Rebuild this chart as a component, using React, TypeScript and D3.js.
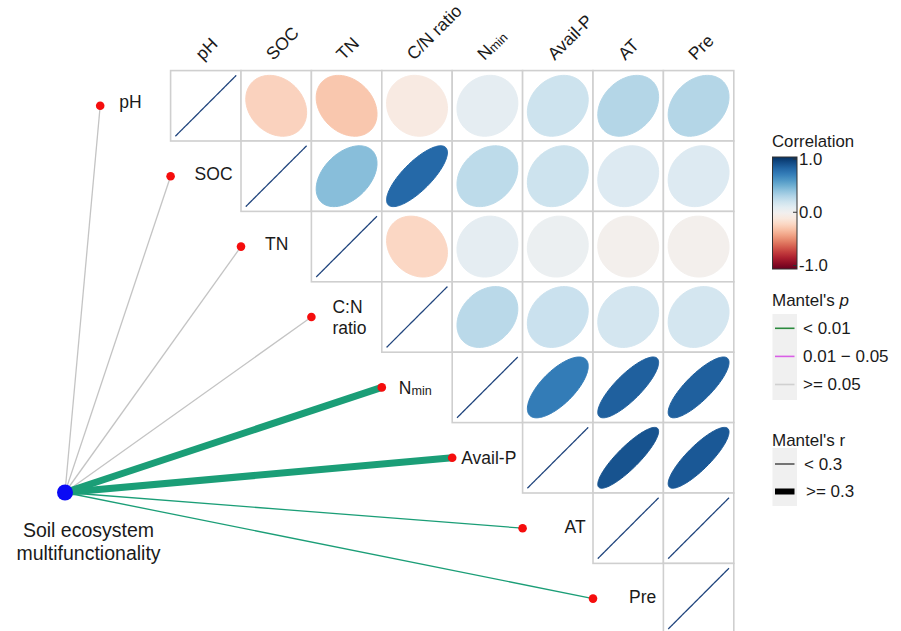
import React from "react";
import * as d3 from "d3";

// ---------- data ----------
const columns = ["pH", "SOC", "TN", "C/N ratio", "Nmin", "Avail-P", "AT", "Pre"];
const rowLabels = ["pH", "SOC", "TN", "C:N ratio", "Nmin", "Avail-P", "AT", "Pre"];

// upper-triangle correlations, each row starts at the diagonal
const corrPH = [1, -0.22, -0.27, -0.08, 0.09, 0.2, 0.29, 0.29];
const corrSOC = [1, 0.42, 0.78, 0.26, 0.2, 0.13, 0.13];
const corrTN = [1, -0.2, 0.09, 0.05, -0.015, -0.015];
const corrCN = [1, 0.27, 0.21, 0.17, 0.17];
const corrNmin = [1, 0.7, 0.82, 0.82];
const corrAvailP = [1, 0.87, 0.85];
const corrAT = [1, 1];
const corrPre = [1];
const corrRows = [corrPH, corrSOC, corrTN, corrCN, corrNmin, corrAvailP, corrAT, corrPre];

// Mantel test: soil ecosystem multifunctionality vs each variable
const mantelR = [0.12, 0.1, 0.08, 0.15, 0.42, 0.45, 0.2, 0.18];
const mantelP = [0.32, 0.41, 0.27, 0.15, 0.001, 0.001, 0.004, 0.006];

const colorTicks = [1, 0, -1];
const pLegend = ["< 0.01", "0.01 \u2212 0.05", ">= 0.05"];
const rLegend = ["< 0.3", ">= 0.3"];

// ---------- layout ----------
const W = 901;
const H = 631;
const X0 = 170.6;
const Y0 = 70.6;
const CELL = 70.4;
const HUB = { x: 65, y: 492.5 };
const FONT = "'Liberation Sans', Arial, Helvetica, sans-serif";
const LABEL_DX = [19, 24, 24, 21, 17, 9, 42, 36];
const LABEL_DY = [-4, -2, -3, 0, 0, 0, -1, -2];

const GREEN = "#1b9e77";
const LEGEND_GREEN = "#2b8a3e";
const MAGENTA = "#d95fe6";
const GREY = "#c4c4c4";
const DIAG = "#22467e";

const x = d3.scaleBand<string>().domain(columns).range([X0, X0 + CELL * columns.length]);
const y = d3.scaleBand<string>().domain(columns).range([Y0, Y0 + CELL * columns.length]);
const color = d3.scaleSequential(d3.interpolateRdBu).domain([-1, 1]);
const widthScale = d3.scaleThreshold<number, number>().domain([0.3]).range([1.3, 7]);
const pColor = d3.scaleThreshold<number, string>().domain([0.01, 0.05]).range([GREEN, MAGENTA, GREY]);

function ellipsePath(r: number, cx: number, cy: number, s: number) {
  const d = Math.acos(Math.max(-1, Math.min(1, r)));
  const pts: [number, number][] = d3.range(0, 2 * Math.PI + 0.001, Math.PI / 60).map((t) => [
    cx + s * Math.cos(t + d / 2),
    cy - s * Math.cos(t - d / 2),
  ]);
  return d3.line()(pts) + "Z";
}

function NLabel({ name, size }: { name: string; size: number }) {
  if (name === "Nmin") {
    return (
      <>
        N
        <tspan fontSize={size * 0.72} dy={1}>
          min
        </tspan>
      </>
    );
  }
  return <>{name}</>;
}

export default function App() {
  const cells: { row: number; col: number; r: number }[] = [];
  corrRows.forEach((vals, i) => vals.forEach((r, k) => cells.push({ row: i, col: i + k, r })));

  const dots = rowLabels.map((lab, i) => ({
    lab,
    i,
    x: X0 + (i - 1) * CELL,
    y: (y(columns[i]) as number) + CELL / 2,
  }));

  const cbTop = 157;
  const cbBot = 269;
  const cbScale = d3.scaleLinear().domain([-1, 1]).range([265.5, 159]);
  const gradStops = d3.range(0, 1.0001, 0.05);

  const s = CELL * 0.432;

  return (
    <svg
      width={W}
      height={H}
      style={{ position: "absolute", left: 0, top: 0, display: "block", background: "#fff" }}
      fontFamily={FONT}
    >
      <defs>
        <linearGradient id="cbar" x1="0" y1="0" x2="0" y2="1">
          {gradStops.map((t) => (
            <stop key={t} offset={t} stopColor={color(1 - 2 * t)} />
          ))}
        </linearGradient>
      </defs>

      {/* grid cells */}
      {cells.map((c) => (
        <rect
          key={`g${c.row}-${c.col}`}
          x={x(columns[c.col])}
          y={y(columns[c.row])}
          width={CELL}
          height={CELL}
          fill="#fff"
          stroke="#cfcfcf"
          strokeWidth={1.6}
        />
      ))}
      {/* ellipses */}
      {cells.map((c) => {
        const cx = (x(columns[c.col]) as number) + CELL / 2;
        const cy = (y(columns[c.row]) as number) + CELL / 2;
        const col = c.r >= 0.999 ? DIAG : color(c.r);
        return (
          <path
            key={`e${c.row}-${c.col}`}
            d={ellipsePath(c.r, cx, cy, s)}
            fill={col}
            stroke={col}
            strokeWidth={c.r >= 0.999 ? 1.3 : 1}
          />
        );
      })}

      {/* column headers */}
      {columns.map((cName) => {
        const px = (x(cName) as number) + CELL / 2 - 3;
        const py = 61;
        return (
          <text
            key={`h${cName}`}
            transform={`translate(${px},${py}) rotate(-45)`}
            fontSize={17.5}
            fill="#1a1a1a"
          >
            <NLabel name={cName} size={17.5} />
          </text>
        );
      })}

      {/* mantel links */}
      {dots.map((d) => (
        <line
          key={`l${d.i}`}
          x1={HUB.x}
          y1={HUB.y}
          x2={d.x}
          y2={d.y}
          stroke={pColor(mantelP[d.i])}
          strokeWidth={widthScale(mantelR[d.i])}
        />
      ))}
      {dots.map((d) => (
        <circle key={`d${d.i}`} cx={d.x} cy={d.y} r={4.3} fill="#f50d0d" />
      ))}
      <circle cx={HUB.x} cy={HUB.y} r={8} fill="#0a0af5" />

      {/* row labels */}
      {dots.map((d) => {
        const tx = d.x + LABEL_DX[d.i];
        const ty = d.y + LABEL_DY[d.i];
        if (d.lab === "C:N ratio") {
          return (
            <text key={`t${d.i}`} x={tx} y={ty} fontSize={17.5} fill="#1a1a1a">
              <tspan x={tx} y={ty - 10.5} dy="0.35em">
                C:N
              </tspan>
              <tspan x={tx} y={ty + 10.5} dy="0.35em">
                ratio
              </tspan>
            </text>
          );
        }
        return (
          <text key={`t${d.i}`} x={tx} y={ty} dy="0.35em" fontSize={17.5} fill="#1a1a1a">
            <NLabel name={d.lab} size={17.5} />
          </text>
        );
      })}

      {/* hub label */}
      <text x={88.5} y={530} dy="0.35em" fontSize={19.5} textAnchor="middle" fill="#1a1a1a">
        Soil ecosystem
      </text>
      <text x={88.5} y={554} dy="0.3em" fontSize={19.5} textAnchor="middle" fill="#1a1a1a">
        multifunctionality
      </text>

      {/* correlation legend */}
      <text x={772} y={141.5} dy="0.35em" fontSize={16.8} fill="#1a1a1a">
        Correlation
      </text>
      <rect x={772.5} y={cbTop} width={24.5} height={cbBot - cbTop} fill="url(#cbar)" stroke="#333" strokeWidth={1} />
      {colorTicks.map((t) => (
        <g key={`cb${t}`}>
          <line x1={793} x2={797} y1={cbScale(t)} y2={cbScale(t)} stroke="#333" strokeWidth={1} />
          <text x={799} y={cbScale(t)} dy="0.35em" fontSize={16.8} fill="#1a1a1a">
            {d3.format(".1f")(t).replace("\u2212", "-")}
          </text>
        </g>
      ))}

      {/* Mantel's p legend */}
      <text x={772} y={300} dy="0.35em" fontSize={17} fill="#1a1a1a">
        Mantel's <tspan fontStyle="italic">p</tspan>
      </text>
      <rect x={772.5} y={314} width={24.5} height={86} fill="#f0f0f0" />
      {pLegend.map((lab, k) => {
        const yy = 328.3 + k * 28.1;
        const c = [LEGEND_GREEN, MAGENTA, "#d0d0d0"][k];
        return (
          <g key={`p${k}`}>
            <line x1={775} x2={794.5} y1={yy} y2={yy} stroke={c} strokeWidth={1.6} />
            <text x={803} y={yy} dy="0.35em" fontSize={17} fill="#1a1a1a">
              {lab}
            </text>
          </g>
        );
      })}

      {/* Mantel's r legend */}
      <text x={772} y={440} dy="0.35em" fontSize={17} fill="#1a1a1a">
        Mantel's r
      </text>
      <rect x={772.5} y={448} width={24.5} height={58} fill="#f0f0f0" />
      {rLegend.map((lab, k) => {
        const yy = 464 + k * 27.5;
        return (
          <g key={`r${k}`}>
            <line
              x1={775}
              x2={794.5}
              y1={yy}
              y2={yy}
              stroke={k === 0 ? "#555" : "#000"}
              strokeWidth={k === 0 ? 1.6 : 6}
            />
            <text x={k === 0 ? 804 : 806} y={yy} dy="0.35em" fontSize={17} fill="#1a1a1a">
              {lab}
            </text>
          </g>
        );
      })}
    </svg>
  );
}
